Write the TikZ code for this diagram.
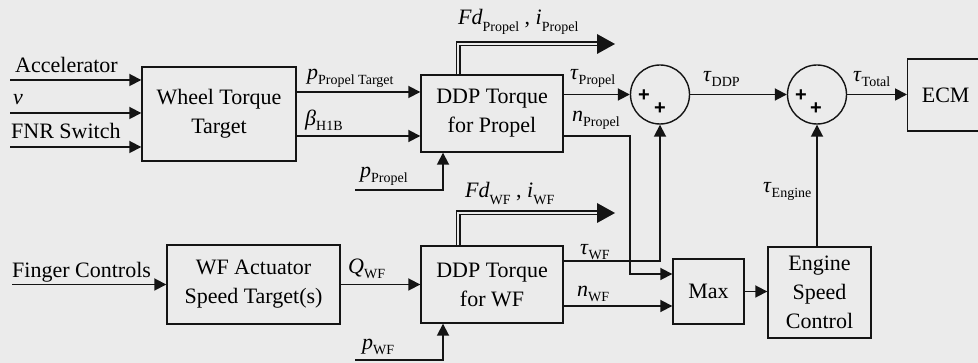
\documentclass[tikz,border=0pt]{standalone}
\usepackage{fontspec}
\setmainfont{LiberationSerif}[Extension=.ttf, UprightFont=*-Regular, ItalicFont=*-Italic, BoldFont=*-Bold, BoldItalicFont=*-BoldItalic]
\newfontfamily\plusfont{Liberation Sans}
\usetikzlibrary{arrows.meta,calc}
\definecolor{bg}{RGB}{235,235,235}
\definecolor{ink}{RGB}{20,20,20}
\newcommand{\vlab}[2]{\textit{#1}\raisebox{-5pt}{\fontsize{14}{14}\selectfont #2}}
\newcommand{\vlabb}[2]{\textit{#1}\raisebox{-7pt}{\fontsize{14}{14}\selectfont #2}}
\begin{document}
\begin{tikzpicture}[x=1pt,y=-1pt,font=\fontsize{22}{29}\selectfont,
  box/.style={draw=ink, line width=1.4pt, align=center, inner sep=0pt},
  sumnode/.style={draw=ink, circle, line width=1.4pt, minimum size=59pt, inner sep=0pt},
  sig/.style={draw=ink, line width=1.8pt, -{Triangle[length=12pt,width=12pt]}},
  dbl/.style={draw=ink, line width=1.2pt, double=bg, double distance=2.6pt, line join=miter},
  lab/.style={anchor=base west, inner sep=0pt},
  plus/.style={inner sep=0pt, font=\plusfont\bfseries\fontsize{20}{20}\selectfont}]
\fill[bg] (0,0) rectangle (978,363);
\clip (0,0) rectangle (978,363);
% blocks
\node[box, minimum width=154, minimum height=94] (wtt) at (219,114) {Wheel Torque\\Target};
\node[box, minimum width=142, minimum height=77] (ddp1) at (492,113.5) {DDP Torque\\for Propel};
\node[box, minimum width=142, minimum height=77] (ddp2) at (492,284.5) {DDP Torque\\for WF};
\node[box, minimum width=173, minimum height=79] (wfa) at (253.5,284.5) {WF Actuator\\Speed Target(s)};
\node[box, minimum width=71, minimum height=65] (max) at (708.5,291.5) {Max};
\node[box, minimum width=103, minimum height=91] (esc) at (819.5,292.5) {Engine\\Speed\\Control};
\node[box, minimum width=76, minimum height=72, anchor=west] (ecm) at (907,95) {ECM};
\node[sumnode] (s1) at (660,94.5) {};
\node[sumnode] (s2) at (817,94.5) {};
\node[plus] (s1a) at ([shift={(-16,1.5)}]s1.center) {+};
\node[plus] (s1b) at ([shift={(0,14.5)}]s1.center) {+};
\node[plus] (s2a) at ([shift={(-16,1)}]s2.center) {+};
\node[plus] (s2b) at ([shift={(-1,14.5)}]s2.center) {+};
% inputs
\coordinate (inA) at (10,80);
\coordinate (inV) at (10,113);
\coordinate (inF) at (10,147);
\coordinate (inFC) at (12,284.5);
\draw[sig] (inA) -- (inA -| wtt.west);
\draw[sig] (inV) -- (inV -| wtt.west);
\draw[sig] (inF) -- (inF -| wtt.west);
\draw[sig] (inFC) -- (wfa.west);
% wheel torque outputs
\coordinate (ptg) at ([yshift=22pt]wtt.east);
\coordinate (bh) at ([yshift=-22pt]wtt.east);
\draw[sig] (ptg) -- (ptg -| ddp1.west);
\draw[sig] (bh) -- (bh -| ddp1.west);
\coordinate (pp) at (355,190);
\draw[sig] (pp) -| ([xshift=-49pt]ddp1.south);
\coordinate (pw) at (355,360);
\draw[sig] (pw) -| ([xshift=-49pt]ddp2.south);
\draw[sig] (wfa.east) -- (wfa.east -| ddp2.west);
% double arrows
\coordinate (fd1) at (598,44);
\coordinate (fd2) at (598,213);
\draw[dbl] ([xshift=-34pt]ddp1.north) |- (fd1);
\draw[dbl] ([xshift=-34pt]ddp2.north) |- (fd2);
\fill[ink] ([shift={(-1,-10)}]fd1) -- ([xshift=17pt]fd1) -- ([shift={(-1,10)}]fd1) -- cycle;
\fill[ink] ([shift={(-1,-10)}]fd2) -- ([xshift=17pt]fd2) -- ([shift={(-1,10)}]fd2) -- cycle;
% DDP outputs
\draw[sig] (ddp1.east |- s1.west) -- (s1.west);
\coordinate (np) at ([yshift=-22.5pt]ddp1.east);
\coordinate (mx1) at ([yshift=17.5pt]max.west);
\draw[sig] (np) -- ++(66,0) |- (mx1);
\coordinate (tw) at ([yshift=23.5pt]ddp2.east);
\draw[sig] (tw) -| (s1.south);
\coordinate (nw) at ([yshift=-21.5pt]ddp2.east);
\draw[sig] (nw) -- (nw -| max.west);
\draw[sig] (max.east) -- (max.east -| esc.west);
\draw[sig] (s2.south |- esc.north) -- (s2.south);
\draw[sig] (s1.east) -- (s2.west);
\draw[sig] (s2.east) -- (s2.east -| ecm.west);
% labels
\node[lab] (lA) at (15,73) {Accelerator};
\node[lab] (lV) at (13,105) {\textit{v}};
\node[lab] (lF) at (11,139) {FNR Switch};
\node[lab] (lFC) at (12,278) {Finger Controls};
\node[lab] (lpt) at (307,80) {\vlab{p}{Propel Target}};
\node[lab] (lb) at (305,126) {\vlab{β}{H1B}};
\node[lab] (lpp) at (360,178) {\vlab{p}{Propel}};
\node[lab] (lfd1) at (458,25) {\vlabb{Fd}{Propel} , \vlabb{i}{Propel}};
\node[lab] (ltp) at (570,80) {\vlab{τ}{Propel}};
\node[lab] (lnp) at (572,122) {\vlab{n}{Propel}};
\node[lab] (ltd) at (703,82) {\vlab{τ}{DDP}};
\node[lab] (ltt) at (853,82) {\vlab{τ}{Total}};
\node[lab] (lte) at (763,193) {\vlab{τ}{Engine}};
\node[lab] (lq) at (348,274) {\vlab{Q}{WF}};
\node[lab] (lpw) at (362,350) {\vlab{p}{WF}};
\node[lab] (lfd2) at (465,198) {\vlabb{Fd}{WF} , \vlabb{i}{WF}};
\node[lab] (ltw) at (580,255) {\vlab{τ}{WF}};
\node[lab] (lnw) at (577,297) {\vlab{n}{WF}};
\end{tikzpicture}
\end{document}
